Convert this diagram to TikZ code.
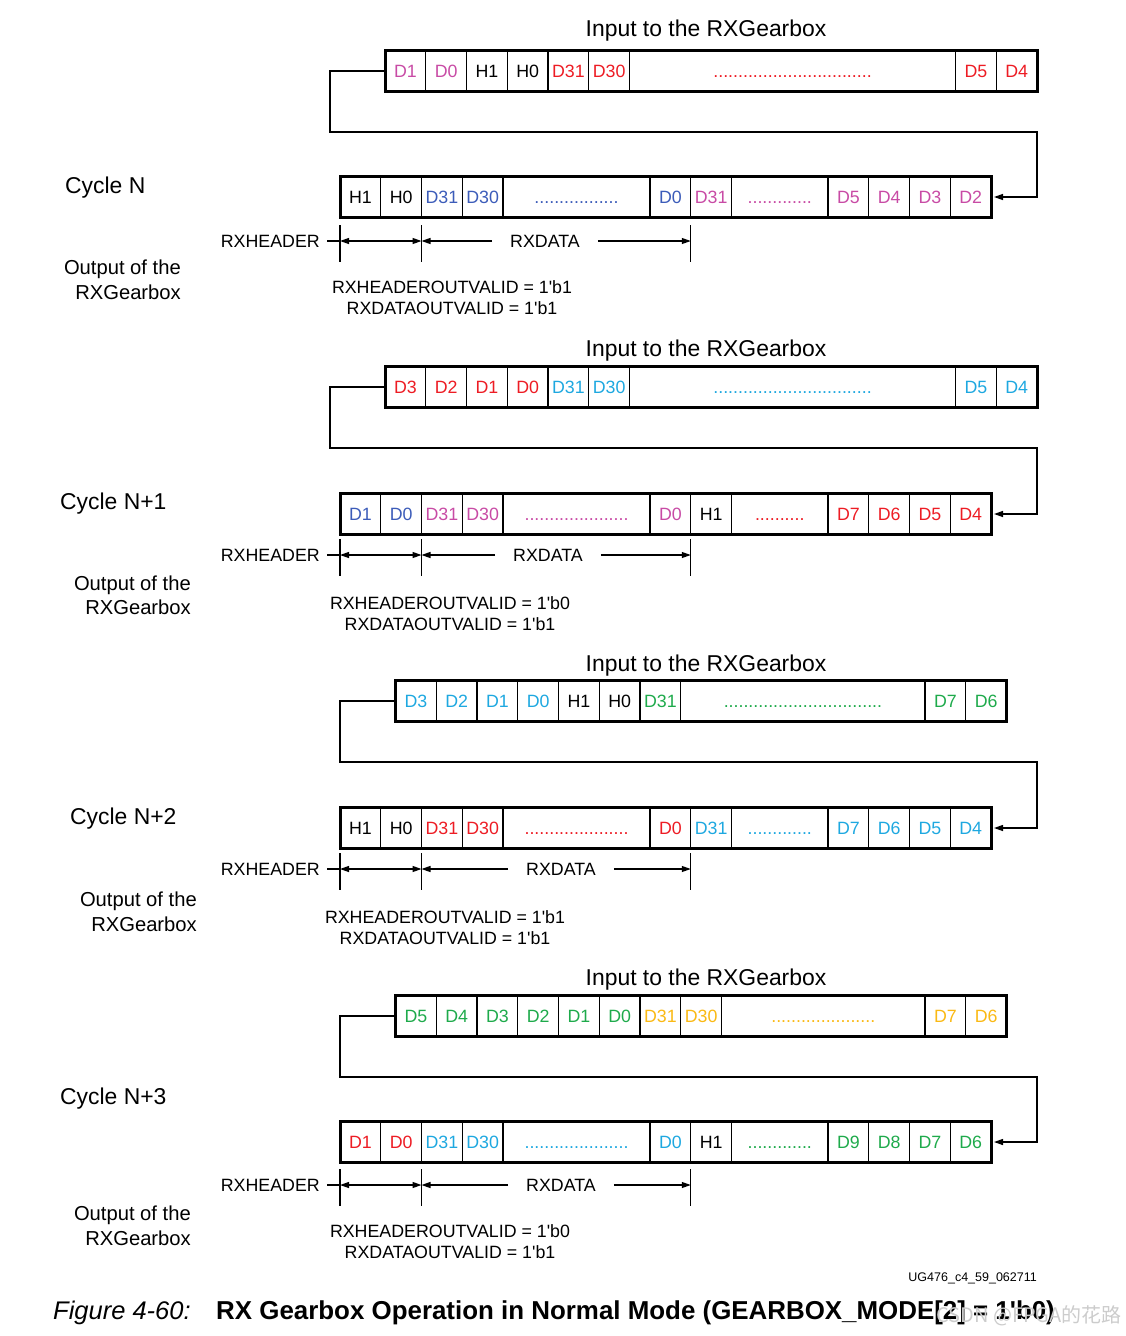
\documentclass[tikz,border=0pt]{standalone}
\usepackage{fontspec}
\setmainfont{Liberation Sans}
\newfontfamily\cjkfont{Noto Sans CJK SC}
\usetikzlibrary{arrows.meta,fit}
\definecolor{mg}{RGB}{200,75,165}
\definecolor{bl}{RGB}{60,92,185}
\definecolor{cy}{RGB}{30,168,224}
\definecolor{rd}{RGB}{237,28,36}
\definecolor{gn}{RGB}{30,170,75}
\definecolor{og}{RGB}{250,185,20}
\tikzset{
  lbl/.style={font=\fontsize{17.8}{21}\selectfont, text height=12.7pt, text depth=0pt, inner sep=0pt},
  ttl/.style={font=\fontsize{22.9}{27}\selectfont, text height=16.4pt, text depth=0pt, inner sep=0pt},
  olbl/.style={font=\fontsize{20.2}{24}\selectfont, text height=14.5pt, text depth=0pt, inner sep=0pt, anchor=east},
  anc/.style={inner sep=0pt, outer sep=0pt, minimum size=0pt},
  cellbox/.style={lbl, draw=black, line width=1.4pt, anchor=west, minimum height=41pt, outer sep=0pt},
  frame/.style={draw=black, line width=3pt, inner sep=0pt, outer sep=0pt},
  conn/.style={line width=1.3pt, -{Triangle[length=9pt,width=6pt]}, shorten >=3pt},
  dimln/.style={line width=1.2pt},
  tip/.style={-{Triangle[length=9pt,width=6pt]}},
  tips/.style={{Triangle[length=9pt,width=6pt]}-{Triangle[length=9pt,width=6pt]}},
}
\newcommand\dotsn[1]{\foreach\k in {1,...,#1}{.}}
\newcommand\cellrow[4]{%
  \node[anc] (#1-0) at (#2,#3) {};
  \foreach \w/\c/\t [count=\i] in {#4}{%
    \pgfmathtruncatemacro\j{\i-1}%
    \node[cellbox, minimum width=\w pt, text=\c] (#1-\i) at (#1-\j.east) {\t};
  }}
% #1 suffix, #2 y, #3 x of RXDATA
\newcommand\dimrow[3]{%
  \coordinate (st#1) at (327,#2);
  \coordinate (ha#1) at (340,#2);
  \coordinate (hb#1) at (421.5,#2);
  \coordinate (hc#1) at (690.75,#2);
  \draw[dimln] ([yshift=16pt]ha#1) -- ([yshift=-21pt]ha#1);
  \draw[dimln] ([yshift=16pt]hb#1) -- ([yshift=-21pt]hb#1);
  \draw[dimln] ([yshift=16pt]hc#1) -- ([yshift=-21pt]hc#1);
  \node[lbl, anchor=east] (rh#1) at (320,#2) {RXHEADER};
  \draw[dimln] (st#1) -- (ha#1);
  \draw[dimln, tips] (ha#1) -- (hb#1);
  \node[lbl, inner xsep=18pt] (rd#1) at (#3,#2) {RXDATA};
  \draw[dimln, tip] (rd#1.west) -- (hb#1);
  \draw[dimln, tip] (rd#1.east) -- (hc#1);
}
\begin{document}
\begin{tikzpicture}[x=1pt,y=-1pt]
\useasboundingbox (0,0) rectangle (1126,1336);

% ================= Section 1 =================
\node[ttl] (t1) at (706,28) {Input to the RXGearbox};
\cellrow{in1}{385}{71}{40.75/mg/D1, 40.75/mg/D0, 40.75/black/H1, 40.75/black/H0, 40.75/rd/D31, 40.75/rd/D30, 326/rd/{\dotsn{32}}, 40.75/rd/D5, 40.75/rd/D4}
\node[frame, fit=(in1-1)(in1-9)] (IN1) {};
\cellrow{out1}{340}{197}{40.75/black/H1, 40.75/black/H0, 40.75/bl/D31, 40.75/bl/D30, 147/bl/{\dotsn{17}}, 40.75/bl/D0, 40.75/mg/D31, 96.5/mg/{\dotsn{13}}, 40.75/mg/D5, 40.75/mg/D4, 40.75/mg/D3, 40.75/mg/D2}
\node[frame, fit=(out1-1)(out1-12)] (OUT1) {};
\coordinate (la1) at (330,132);
\coordinate (lb1) at (1037,132);
\draw[conn] (IN1.west) -| (la1) -- (lb1) |- (OUT1.east);
\node[ttl, anchor=west] (cy1) at (65,185) {Cycle N};
\node[olbl] (oa1) at (181,267) {Output of the};
\node[olbl] (ob1) at (181,292) {RXGearbox};
\dimrow{1}{241}{545}
\node[lbl] (va1) at (452,287) {RXHEADEROUTVALID = 1\textquotesingle b1};
\node[lbl] (vb1) at (452,308) {RXDATAOUTVALID = 1\textquotesingle b1};

% ================= Section 2 =================
\node[ttl] (t2) at (706,348) {Input to the RXGearbox};
\cellrow{in2}{385}{387}{40.75/rd/D3, 40.75/rd/D2, 40.75/rd/D1, 40.75/rd/D0, 40.75/cy/D31, 40.75/cy/D30, 326/cy/{\dotsn{32}}, 40.75/cy/D5, 40.75/cy/D4}
\node[frame, fit=(in2-1)(in2-9)] (IN2) {};
\cellrow{out2}{340}{514}{40.75/bl/D1, 40.75/bl/D0, 40.75/mg/D31, 40.75/mg/D30, 147/mg/{\dotsn{21}}, 40.75/mg/D0, 40.75/black/H1, 96.5/rd/{\dotsn{10}}, 40.75/rd/D7, 40.75/rd/D6, 40.75/rd/D5, 40.75/rd/D4}
\node[frame, fit=(out2-1)(out2-12)] (OUT2) {};
\coordinate (la2) at (330,448);
\coordinate (lb2) at (1037,448);
\draw[conn] (IN2.west) -| (la2) -- (lb2) |- (OUT2.east);
\node[ttl, anchor=west] (cy2) at (60,501) {Cycle N+1};
\node[olbl] (oa2) at (191,583) {Output of the};
\node[olbl] (ob2) at (191,607) {RXGearbox};
\dimrow{2}{555}{548}
\node[lbl] (va2) at (450,603) {RXHEADEROUTVALID = 1\textquotesingle b0};
\node[lbl] (vb2) at (450,624) {RXDATAOUTVALID = 1\textquotesingle b1};

% ================= Section 3 =================
\node[ttl] (t3) at (706,663) {Input to the RXGearbox};
\cellrow{in3}{395.5}{701}{40.75/cy/D3, 40.75/cy/D2, 40.75/cy/D1, 40.75/cy/D0, 40.75/black/H1, 40.75/black/H0, 40.75/gn/D31, 244.25/gn/{\dotsn{32}}, 40.75/gn/D7, 40.75/gn/D6}
\node[frame, fit=(in3-1)(in3-10)] (IN3) {};
\cellrow{out3}{340}{828}{40.75/black/H1, 40.75/black/H0, 40.75/rd/D31, 40.75/rd/D30, 147/rd/{\dotsn{21}}, 40.75/rd/D0, 40.75/cy/D31, 96.5/cy/{\dotsn{13}}, 40.75/cy/D7, 40.75/cy/D6, 40.75/cy/D5, 40.75/cy/D4}
\node[frame, fit=(out3-1)(out3-12)] (OUT3) {};
\coordinate (la3) at (340,762);
\coordinate (lb3) at (1037,762);
\draw[conn] (IN3.west) -| (la3) -- (lb3) |- (OUT3.east);
\node[ttl, anchor=west] (cy3) at (70,816) {Cycle N+2};
\node[olbl] (oa3) at (197,899) {Output of the};
\node[olbl] (ob3) at (197,924) {RXGearbox};
\dimrow{3}{869}{561}
\node[lbl] (va3) at (445,917) {RXHEADEROUTVALID = 1\textquotesingle b1};
\node[lbl] (vb3) at (445,938) {RXDATAOUTVALID = 1\textquotesingle b1};

% ================= Section 4 =================
\node[ttl] (t4) at (706,977) {Input to the RXGearbox};
\cellrow{in4}{395.5}{1016}{40.75/gn/D5, 40.75/gn/D4, 40.75/gn/D3, 40.75/gn/D2, 40.75/gn/D1, 40.75/gn/D0, 40.75/og/D31, 40.75/og/D30, 203.5/og/{\dotsn{21}}, 40.75/og/D7, 40.75/og/D6}
\node[frame, fit=(in4-1)(in4-11)] (IN4) {};
\cellrow{out4}{340}{1142}{40.75/rd/D1, 40.75/rd/D0, 40.75/cy/D31, 40.75/cy/D30, 147/cy/{\dotsn{21}}, 40.75/cy/D0, 40.75/black/H1, 96.5/gn/{\dotsn{13}}, 40.75/gn/D9, 40.75/gn/D8, 40.75/gn/D7, 40.75/gn/D6}
\node[frame, fit=(out4-1)(out4-12)] (OUT4) {};
\coordinate (la4) at (340,1077);
\coordinate (lb4) at (1037,1077);
\draw[conn] (IN4.west) -| (la4) -- (lb4) |- (OUT4.east);
\node[ttl, anchor=west] (cy4) at (60,1096) {Cycle N+3};
\node[olbl] (oa4) at (191,1213) {Output of the};
\node[olbl] (ob4) at (191,1238) {RXGearbox};
\dimrow{4}{1185}{561}
\node[lbl] (va4) at (450,1231) {RXHEADEROUTVALID = 1\textquotesingle b0};
\node[lbl] (vb4) at (450,1252) {RXDATAOUTVALID = 1\textquotesingle b1};

% ================= Caption =================
\node[anchor=east, inner sep=0pt, font=\fontsize{12.5}{15}\selectfont, text height=9pt, text depth=0pt] (ug) at (1037,1277) {UG476\_c4\_59\_062711};
\node[anchor=west, inner sep=0pt, font=\fontsize{25.5}{30}\selectfont\itshape, text height=18.5pt, text depth=0pt] (fig) at (53,1310) {Figure 4-60:};
\node[anchor=west, inner sep=0pt, font=\fontsize{25.9}{30}\selectfont\bfseries, text height=18.6pt, text depth=0pt] (cap) at (216,1310) {RX Gearbox Operation in Normal Mode (GEARBOX\_MODE[2] = 1\textquotesingle b0)};
\node[anchor=east, inner sep=0pt, text=gray!40, font=\cjkfont\fontsize{20}{24}\selectfont] (wm) at (1122,1316) {CSDN @FPGA的花路};
\end{tikzpicture}
\end{document}
